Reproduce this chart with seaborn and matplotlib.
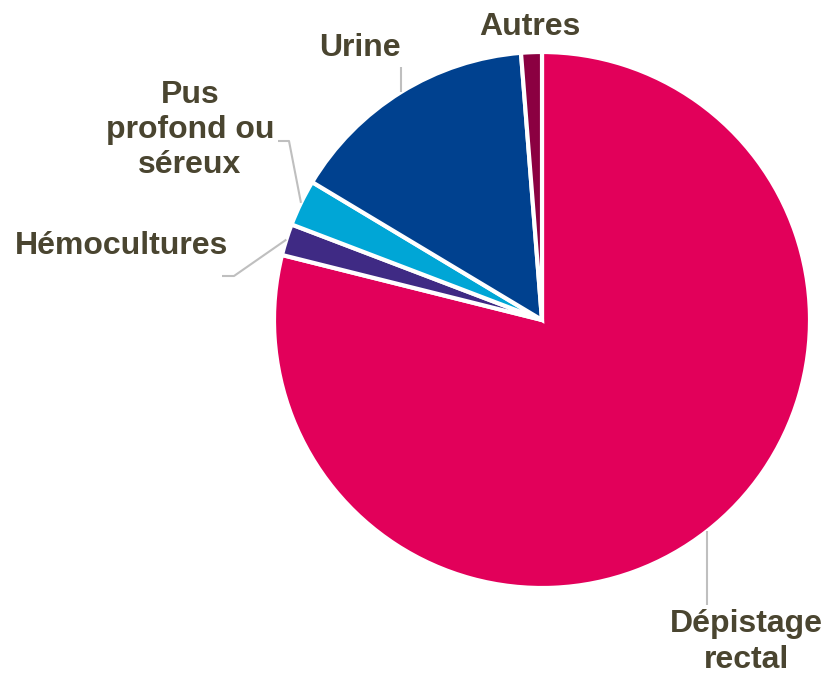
import matplotlib
matplotlib.use("Agg")
import matplotlib.pyplot as plt
import numpy as np
import seaborn as sns

# data (share of samples, %)
categories = ["Dépistage\nrectal", "Hémocultures", "Pus\nprofond ou\nséreux", "Urine", "Autres"]
shares = [78.9, 1.9, 2.8, 15.15, 1.25]
colors = ["#E2005A", "#3F2A84", "#00A6D6", "#00418F", "#8B0041"]

TEXT_COLOR = "#4A4530"
LINE_COLOR = "#BFBFBF"

sns.set_style("white")
plt.rcParams["font.family"] = ["Liberation Sans", "DejaVu Sans"]

W, H = 827, 675
fig = plt.figure(figsize=(W / 100, H / 100), dpi=100)
ax = fig.add_axes([0, 0, 1, 1])

cx, cy, r = 542, H - 320, 268
wedges, _ = ax.pie(
    shares,
    colors=colors,
    startangle=90,
    counterclock=False,
    center=(cx, cy),
    radius=r,
    frame=True,
    wedgeprops={"edgecolor": "white", "linewidth": 3},
)
ax.set_xlim(0, W)
ax.set_ylim(0, H)
ax.axis("off")


def edge_point(i):
    # point on the outer rim at the middle of wedge i (pixel coords, y down)
    start = sum(shares[:i]) / sum(shares) * 360
    mid = np.deg2rad(start + shares[i] / sum(shares) * 180)
    return cx + r * np.sin(mid), H - cy - r * np.cos(mid)


def line(pts):
    xs = [p[0] for p in pts]
    ys = [H - p[1] for p in pts]
    ax.plot(xs, ys, color=LINE_COLOR, lw=1.5, solid_capstyle="butt")


def label(x, y, text, ha="center"):
    ax.text(x, H - y, text, ha=ha, va="center", fontsize=23, fontweight="bold",
            color=TEXT_COLOR, linespacing=1.22)


# Dépistage rectal
p = edge_point(0)
line([p, (p[0], 605)])
label(746, 642, categories[0])

# Hémocultures
p = edge_point(1)
line([p, (234, 276), (222, 276)])
label(228, 246, categories[1], ha="right")

# Pus profond ou séreux
p = edge_point(2)
line([p, (289, 141), (278, 141)])
label(190, 130, categories[2])

# Urine
p = edge_point(3)
line([p, (p[0], 67)])
label(360, 48, categories[3])

# Autres
label(530, 27, categories[4])

fig.savefig("out.png", dpi=100)
